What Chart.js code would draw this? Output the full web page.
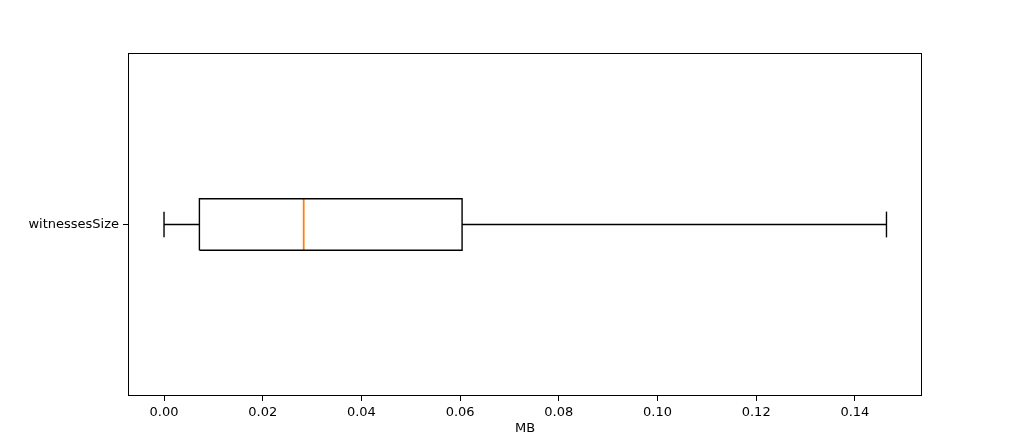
<!DOCTYPE html>
<html>
<head>
<meta charset="utf-8">
<script src="https://cdn.jsdelivr.net/npm/chart.js@4/dist/chart.umd.min.js"></script>
<style>
html,body{margin:0;padding:0;background:#fff;}
canvas{display:block;}
</style>
</head>
<body>
<canvas id="c" width="1024" height="444"></canvas>
<script>
// Data
const categories = ['witnessesSize'];
const whiskerLow = [0.0];
const q1 = [0.00717];
const median = [0.0283];
const q3 = [0.0604];
const whiskerHigh = [0.1464];
const xTicks = [0.00, 0.02, 0.04, 0.06, 0.08, 0.10, 0.12, 0.14];
const xLabel = 'MB';

const BOX_HALF = 0.075, CAP_HALF = 0.0375;
const BLACK = '#000000', ORANGE = '#ff7f0e';
const LW = 1.4;

const datasets = [];
categories.forEach((cat, i) => {
  const p = i + 1;
  const line = (pts, color) => ({
    data: pts, showLine: true, borderColor: color, borderWidth: LW,
    pointRadius: 0, pointHoverRadius: 0, fill: false, tension: 0
  });
  datasets.push(line([
    {x: q1[i], y: p - BOX_HALF}, {x: q3[i], y: p - BOX_HALF},
    {x: q3[i], y: p + BOX_HALF}, {x: q1[i], y: p + BOX_HALF},
    {x: q1[i], y: p - BOX_HALF}], BLACK));
  datasets.push(line([{x: whiskerLow[i], y: p}, {x: q1[i], y: p}], BLACK));
  datasets.push(line([{x: q3[i], y: p}, {x: whiskerHigh[i], y: p}], BLACK));
  datasets.push(line([{x: whiskerLow[i], y: p - CAP_HALF}, {x: whiskerLow[i], y: p + CAP_HALF}], BLACK));
  datasets.push(line([{x: whiskerHigh[i], y: p - CAP_HALF}, {x: whiskerHigh[i], y: p + CAP_HALF}], BLACK));
  const med = line([{x: median[i], y: p - BOX_HALF}, {x: median[i], y: p + BOX_HALF}], ORANGE);
  med.borderWidth = 1.8;
  datasets.push(med);
});

const frame = {
  id: 'frame',
  afterDatasetsDraw(chart) {
    const a = chart.chartArea, ctx = chart.ctx;
    ctx.save();
    ctx.strokeStyle = BLACK;
    ctx.lineWidth = 1;
    ctx.strokeRect(Math.round(a.left) + 0.5, Math.round(a.top) + 0.5,
      Math.round(a.right - a.left) - 1, Math.round(a.bottom - a.top) - 1);
    ctx.restore();
  }
};

const font = {family: 'DejaVu Sans', size: 13};
new Chart(document.getElementById('c'), {
  type: 'scatter',
  data: {datasets},
  plugins: [frame],
  options: {
    responsive: false,
    animation: false,
    events: [],
    layout: {padding: {top: 53, right: 102, left: 0, bottom: 0}},
    plugins: {legend: {display: false}, tooltip: {enabled: false}},
    scales: {
      x: {
        type: 'linear', min: -0.0073, max: 0.1536,
        afterBuildTicks: s => { s.ticks = xTicks.map(v => ({value: v})); },
        afterFit: s => { s.height = 48; },
        grid: {display: true, drawOnChartArea: false, drawTicks: true, tickLength: 5, color: BLACK},
        border: {display: false},
        ticks: {color: BLACK, font, padding: 4, maxRotation: 0, autoSkip: false,
          callback: v => Number(v).toFixed(2)},
        title: {display: true, text: xLabel, color: BLACK, font, padding: {top: 0, bottom: 8}}
      },
      y: {
        type: 'linear', min: 0.5, max: 1.5,
        afterBuildTicks: s => { s.ticks = categories.map((c, i) => ({value: i + 1})); },
        afterFit: s => { s.width = 128; },
        grid: {display: true, drawOnChartArea: false, drawTicks: true, tickLength: 5, color: BLACK},
        border: {display: false},
        ticks: {color: BLACK, font, padding: 4, autoSkip: false,
          callback: v => categories[Math.round(v) - 1] || ''}
      }
    }
  }
});
</script>
</body>
</html>
